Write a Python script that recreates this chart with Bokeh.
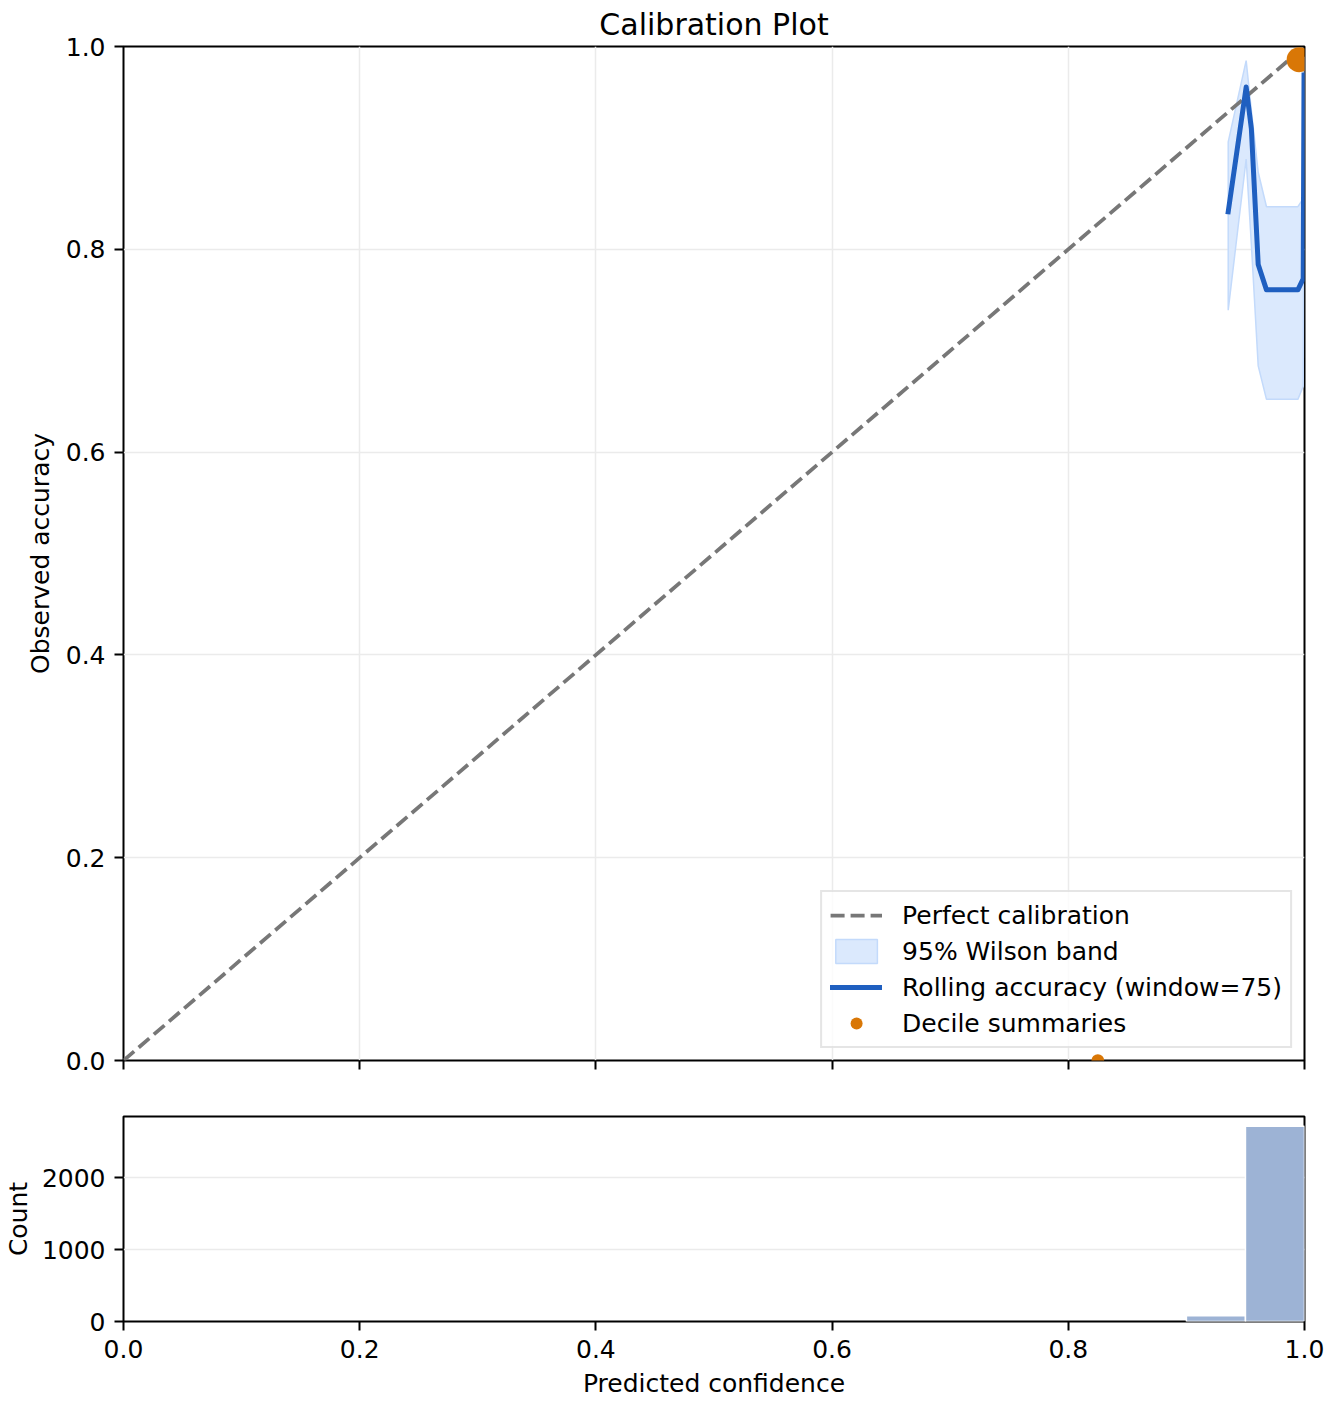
import numpy as np
from bokeh.plotting import figure
from bokeh.layouts import column
from bokeh.models import (Legend, LegendItem, FixedTicker, PrintfTickFormatter,
                          CustomJSTickFormatter, Range1d, ColumnDataSource)
from bokeh.embed import file_html
from bokeh.resources import INLINE

# ---------------- data ----------------
diag_x = [0.0, 1.0]
diag_y = [0.0, 1.0]

roll_x = [0.9354, 0.9506, 0.9550, 0.9608, 0.9678, 0.9944, 0.9989, 0.9996]
roll_y = [0.837, 0.960, 0.919, 0.785, 0.760, 0.760, 0.771, 0.972]
band_lower = [0.740, 0.889, 0.805, 0.685, 0.652, 0.652, 0.665, 0.930]
band_upper = [0.906, 0.986, 0.937, 0.876, 0.842, 0.842, 0.850, 0.990]

dec_conf = [0.9955, 0.825]
dec_acc = [0.987, 0.0]
dec_count = [390, 100]

hist_edges = [0.0, 0.05, 0.10, 0.15, 0.20, 0.25, 0.30, 0.35, 0.40, 0.45, 0.50,
              0.55, 0.60, 0.65, 0.70, 0.75, 0.80, 0.85, 0.90, 0.95, 1.0]
hist_counts = [0, 0, 0, 0, 0, 0, 0, 0, 0, 0, 0, 0, 0, 0, 0, 0, 0, 0, 80, 2720]

x_ticks = [0.0, 0.2, 0.4, 0.6, 0.8, 1.0]
y_ticks = [0.0, 0.2, 0.4, 0.6, 0.8, 1.0]
count_ticks = [0, 1000, 2000]

FONT = "DejaVu Sans"
FS = "25px"


def style_axes(fig):
    for ax in fig.axis:
        ax.axis_line_color = None
        ax.major_tick_line_color = "black"
        ax.major_tick_line_width = 2
        ax.major_tick_out = 9
        ax.major_tick_in = 0
        ax.minor_tick_line_color = None
        ax.major_label_text_font = FONT
        ax.major_label_text_font_size = FS
        ax.major_label_text_color = "black"
        ax.major_label_standoff = 9
        ax.axis_label_text_font = FONT
        ax.axis_label_text_font_size = FS
        ax.axis_label_text_font_style = "normal"
        ax.axis_label_text_color = "black"
    fig.outline_line_color = "black"
    fig.outline_line_width = 2
    fig.outline_line_alpha = 1.0
    fig.background_fill_color = "white"
    fig.border_fill_color = "white"


# ---------------- main calibration plot ----------------
p = figure(frame_width=1181, frame_height=1014,
           x_range=Range1d(0, 1), y_range=Range1d(0, 1),
           output_backend="svg", toolbar_location=None,
           min_border_left=123, min_border_right=24,
           min_border_top=46, min_border_bottom=30,
           title="Calibration Plot")
p.title.text_font = FONT
p.title.text_font_size = "30px"
p.title.text_font_style = "normal"
p.title.align = "center"
p.title.text_color = "black"
p.title.standoff = 9

style_axes(p)
p.xaxis.ticker = FixedTicker(ticks=x_ticks)
p.xaxis.formatter = CustomJSTickFormatter(code="return ''")
p.yaxis.ticker = FixedTicker(ticks=y_ticks)
p.yaxis.formatter = PrintfTickFormatter(format="%.1f")
p.yaxis.axis_label = "Observed accuracy"
p.yaxis.axis_label_standoff = 8
p.grid.grid_line_color = "#ebebeb"
p.grid.grid_line_width = 1.5

band_xs = roll_x + roll_x[::-1]
band_ys = band_lower + band_upper[::-1]
r_band = p.patch(band_xs, band_ys, fill_color="#dbe9fd", fill_alpha=1.0,
                 line_color="#c3dafb", line_width=1.5)
r_diag = p.line(diag_x, diag_y, line_color="#777777", line_width=3.75,
                line_dash="14 6")
r_roll = p.line(roll_x, roll_y, line_color="#1f5fc0", line_width=5,
                line_join="round", line_cap="square")
dec_src = ColumnDataSource(dict(x=dec_conf, y=dec_acc,
                                size=[1.27 * np.sqrt(c) for c in dec_count]))
r_dec = p.scatter("x", "y", size="size", source=dec_src, marker="circle",
                  fill_color="#d97706", line_color=None)

legend = Legend(items=[
    LegendItem(label="Perfect calibration", renderers=[r_diag]),
    LegendItem(label="95% Wilson band", renderers=[r_band]),
    LegendItem(label="Rolling accuracy (window=75)", renderers=[r_roll]),
    LegendItem(label="Decile summaries", renderers=[r_dec], index=0),
], location="bottom_right")
legend.label_text_font = FONT
legend.label_text_font_size = FS
legend.label_text_color = "black"
legend.glyph_width = 52
legend.glyph_height = 30
legend.label_height = 30
legend.spacing = 6
legend.padding = 8
legend.margin = 12
legend.label_standoff = 20
legend.border_line_color = "#cccccc"
legend.border_line_width = 2
legend.background_fill_color = "white"
legend.background_fill_alpha = 0.8
p.add_layout(legend)

# ---------------- histogram ----------------
h = figure(frame_width=1181, frame_height=205,
           x_range=Range1d(0, 1), y_range=Range1d(0, 2856),
           output_backend="svg", toolbar_location=None,
           min_border_left=123, min_border_right=24,
           min_border_top=26, min_border_bottom=76)
style_axes(h)
h.xaxis.ticker = FixedTicker(ticks=x_ticks)
h.xaxis.formatter = PrintfTickFormatter(format="%.1f")
h.xaxis.axis_label = "Predicted confidence"
h.xaxis.axis_label_standoff = 8
h.yaxis.ticker = FixedTicker(ticks=count_ticks)
h.yaxis.formatter = PrintfTickFormatter(format="%d")
h.yaxis.axis_label = "Count"
h.yaxis.axis_label_standoff = 6
h.xgrid.grid_line_color = None
h.ygrid.grid_line_color = "#ebebeb"
h.ygrid.grid_line_width = 1.5

nz = [i for i, c in enumerate(hist_counts) if c > 0]
h.quad(left=[hist_edges[i] for i in nz], right=[hist_edges[i + 1] for i in nz],
       bottom=0, top=[hist_counts[i] for i in nz],
       fill_color="#9db3d5", line_color="white", line_width=1.5)

layout = column(p, h, spacing=0)
open("out.html", "w").write(file_html(layout, INLINE))
